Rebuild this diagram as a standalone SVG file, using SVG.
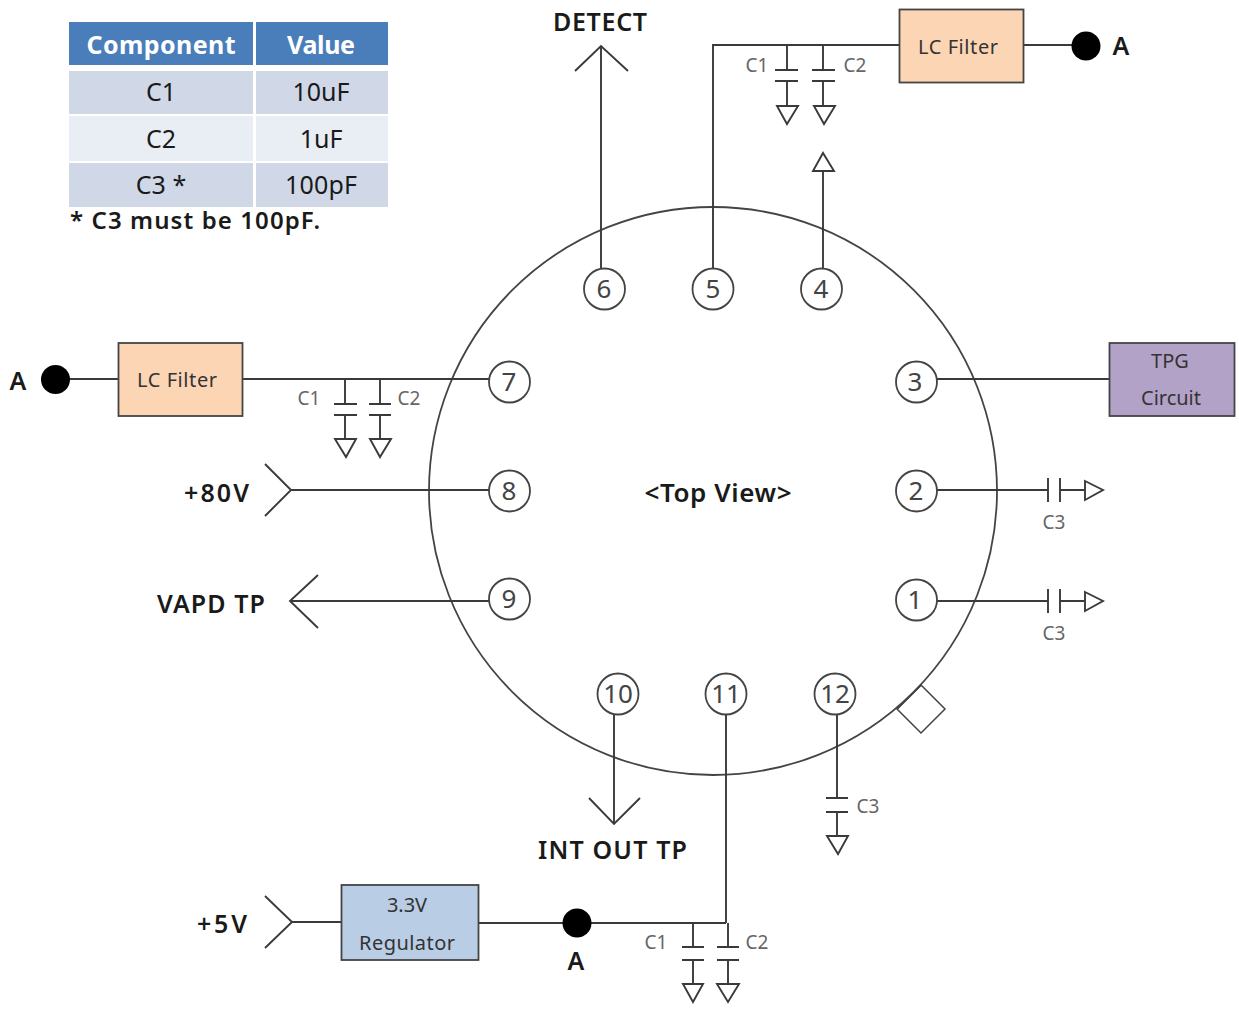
<svg xmlns="http://www.w3.org/2000/svg" width="1239" height="1012" viewBox="0 0 1239 1012">
<style>
text{font-family:"Noto Sans","DejaVu Sans",sans-serif;fill:#1a1a1a;text-anchor:middle}
.l path{stroke:#3a3a3a;stroke-width:1.9;fill:none}
.l polygon{stroke:#3a3a3a;stroke-width:1.9;fill:#fff}
.pin circle{fill:#fff;stroke:#444;stroke-width:1.8}
.pin text{font-size:26px;fill:#444}
.box{stroke:#444;stroke-width:1.8}
.lab{font-size:25px;font-weight:600}
.c{font-size:19px;fill:#666}
.t{font-size:25px}
.b{font-size:20px;fill:#333}
.dot{fill:#000}
</style>
<g id="table">
<rect x="69" y="22" width="184" height="43" fill="#4a7ebb"/><rect x="256" y="22" width="132" height="43" fill="#4a7ebb"/>
<rect x="69" y="71" width="184" height="43" fill="#d0d8e8"/><rect x="256" y="71" width="132" height="43" fill="#d0d8e8"/>
<rect x="69" y="116" width="184" height="45" fill="#e9edf4"/><rect x="256" y="116" width="132" height="45" fill="#e9edf4"/>
<rect x="69" y="163" width="184" height="44" fill="#d0d8e8"/><rect x="256" y="163" width="132" height="44" fill="#d0d8e8"/>
<text x="161" y="54" class="t" textLength="149" style="fill:#fff;font-weight:700">Component</text><text x="321" y="54" class="t" textLength="68" style="fill:#fff;font-weight:700">Value</text>
<text x="161" y="101" class="t">C1</text><text x="321" y="101" class="t">10uF</text>
<text x="161" y="148" class="t">C2</text><text x="321" y="148" class="t">1uF</text>
<text x="161" y="194" class="t">C3 *</text><text x="321" y="194" class="t" textLength="72">100pF</text>
<text x="195" y="229" textLength="250" style="font-size:24px;font-weight:600">* C3 must be 100pF.</text>
</g>
<g id="package"><circle cx="713" cy="491" r="284" fill="none" stroke="#444" stroke-width="1.8"/>
<polygon points="921,685 945,709 921,733 897,709" fill="#fff" stroke="#444" stroke-width="1.5"/>
<path d="M897,709 L921,685" stroke="#444" stroke-width="1.8"/>
<text x="718" y="502" textLength="147" style="font-size:26px;font-weight:600">&lt;Top View&gt;</text></g>
<g id="connectors" class="l">
<path d="M601,268V46M575,71L601,46L628,71"/>
<path d="M713,268V45H899M1023,45H1086"/>
<path d="M787,45V70M823,45V70M775,70H798M812,70H835M775,81H798M812,81H835M787,81V106M823,81V106"/>
<polygon points="777,106 798,106 787,124"/><polygon points="814,106 835,106 824,124"/>
<path d="M823,268V171"/><polygon points="813,171 834,171 823,153"/>
<path d="M242,379H490M55,379H118"/>
<path d="M345,379V404M380,379V404M334,404H357M369,404H391M334,415H357M369,415H391M345,415V439M380,415V439"/>
<polygon points="335,439 356,439 346,457"/><polygon points="370,439 391,439 380,457"/>
<path d="M290,490H490M265,464L291,490L265,516"/>
<path d="M290,601H490M318,575L290,601L318,628"/>
<path d="M937,379H1110"/>
<path d="M937,490H1048M1060,490H1085M1048,478V502M1060,478V502"/><polygon points="1085,481 1103,490 1085,500"/>
<path d="M937,601H1048M1060,601H1085M1048,589V613M1060,589V613"/><polygon points="1085,592 1103,601 1085,611"/>
<path d="M614,712V823M589,798L614,824L640,798"/>
<path d="M726,712V923M478,923H726"/>
<path d="M693,923V947M728,923V947M682,947H704M717,947H739M682,960H704M717,960H739M693,960V984M728,960V984"/>
<polygon points="683,984 703,984 693,1002"/><polygon points="717,984 739,984 728,1002"/>
<path d="M837,712V798M826,798H848M826,812H848M837,812V836"/><polygon points="827,836 848,836 838,854"/>
<path d="M341,922H292M265,896L292,922L265,948"/>
</g>
<g id="pin1" class="pin"><circle cx="916.500" cy="600" r="20.500"/><text x="915" y="609">1</text></g>
<g id="pin2" class="pin"><circle cx="916.500" cy="491" r="20.500"/><text x="916" y="500">2</text></g>
<g id="pin3" class="pin"><circle cx="916.500" cy="382" r="20.500"/><text x="915" y="391">3</text></g>
<g id="pin4" class="pin"><circle cx="821.500" cy="289" r="20.500"/><text x="821" y="298">4</text></g>
<g id="pin5" class="pin"><circle cx="713" cy="289" r="20.500"/><text x="713" y="298">5</text></g>
<g id="pin6" class="pin"><circle cx="604.500" cy="289" r="20.500"/><text x="604" y="298">6</text></g>
<g id="pin7" class="pin"><circle cx="509.500" cy="382" r="20.500"/><text x="509" y="391">7</text></g>
<g id="pin8" class="pin"><circle cx="509.500" cy="491" r="20.500"/><text x="509" y="500">8</text></g>
<g id="pin9" class="pin"><circle cx="509.500" cy="599" r="20.500"/><text x="509" y="608">9</text></g>
<g id="pin10" class="pin"><circle cx="618" cy="694" r="20.500"/><text x="618" y="703">10</text></g>
<g id="pin11" class="pin"><circle cx="726" cy="694" r="20.500"/><text x="726" y="703">11</text></g>
<g id="pin12" class="pin"><circle cx="835" cy="694" r="20.500"/><text x="835" y="703">12</text></g>
<g id="lc-top"><rect class="box" x="899.500" y="9.500" width="124" height="73" fill="#fcd5b5"/><text x="958" y="54" class="b" textLength="80">LC Filter</text></g>
<g id="lc-left"><rect class="box" x="118.500" y="343" width="124" height="73" fill="#fcd5b5"/><text x="177" y="387" class="b" textLength="80">LC Filter</text></g>
<g id="tpg"><rect class="box" x="1109.500" y="343" width="125" height="73" fill="#b3a2c7"/><text x="1170" y="368" class="b">TPG</text><text x="1171" y="405" class="b">Circuit</text></g>
<g id="reg"><rect class="box" x="341.500" y="885" width="137" height="75" fill="#b9cde5"/><text x="407" y="912" class="b">3.3V</text><text x="407" y="950" class="b" textLength="96">Regulator</text></g>
<g id="dots"><circle class="dot" cx="1086" cy="46" r="14.500"/><circle class="dot" cx="55.500" cy="379.500" r="14.500"/><circle class="dot" cx="577" cy="923" r="14.500"/></g>
<g id="labels">
<text x="600" y="31" class="lab" textLength="94">DETECT</text><text x="1121" y="55" class="lab">A</text><text x="18" y="390" class="lab">A</text>
<text x="216.500" y="502" class="lab" textLength="65">+80V</text><text x="211" y="613" class="lab" textLength="108">VAPD TP</text><text x="612.500" y="859" class="lab" textLength="149">INT OUT TP</text>
<text x="222" y="933" class="lab" textLength="50">+5V</text><text x="576" y="970" class="lab">A</text>
<text x="757" y="72" class="c">C1</text><text x="855" y="72" class="c">C2</text>
<text x="309" y="405" class="c">C1</text><text x="409" y="405" class="c">C2</text>
<text x="1054" y="529" class="c">C3</text><text x="1054" y="640" class="c">C3</text><text x="868" y="813" class="c">C3</text>
<text x="656" y="949" class="c">C1</text><text x="757" y="949" class="c">C2</text>
</g>
</svg>
